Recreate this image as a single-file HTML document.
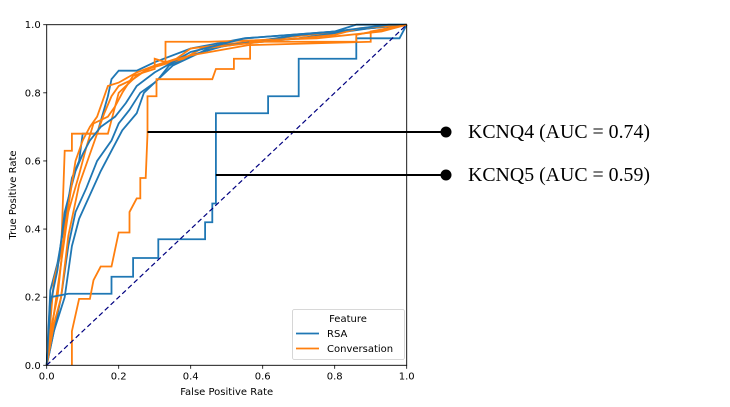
<!DOCTYPE html>
<html><head><meta charset="utf-8"><style>
body{margin:0;background:#fff;width:730px;height:407px;overflow:hidden}
svg{display:block;font-family:"DejaVu Sans","Liberation Sans",sans-serif}
</style></head><body>
<svg id="c" width="730" height="407"></svg>
<script>
const xTicks=[0,0.2,0.4,0.6,0.8,1.0];
const yTicks=[0,0.2,0.4,0.6,0.8,1.0];
const s0=[[0,0],[0.01,0.2],[0.06,0.21],[0.18,0.21],[0.18,0.26],[0.24,0.26],[0.24,0.315],[0.31,0.315],[0.31,0.37],[0.44,0.37],[0.44,0.42],[0.46,0.42],[0.46,0.475],[0.47,0.475],[0.47,0.74],[0.615,0.74],[0.615,0.79],[0.70,0.79],[0.70,0.90],[0.86,0.90],[0.86,0.96],[0.98,0.96],[1,1]];
const s1=[[0.07,0],[0.07,0.1],[0.09,0.195],[0.12,0.195],[0.13,0.25],[0.15,0.29],[0.18,0.29],[0.19,0.34],[0.2,0.39],[0.23,0.39],[0.23,0.45],[0.25,0.49],[0.26,0.49],[0.26,0.55],[0.275,0.55],[0.28,0.68],[0.28,0.79],[0.305,0.79],[0.305,0.84],[0.46,0.84],[0.47,0.87],[0.52,0.87],[0.52,0.90],[0.565,0.90],[0.565,0.95],[0.86,0.95],[0.86,0.97],[1,1]];
const s2=[[0,0],[0.01,0.22],[0.03,0.3],[0.05,0.42],[0.07,0.55],[0.09,0.6],[0.1,0.68],[0.14,0.68],[0.17,0.79],[0.18,0.84],[0.2,0.865],[0.25,0.865],[0.3,0.89],[0.4,0.93],[0.55,0.96],[0.8,0.98],[0.86,1.0],[1,1]];
const s3=[[0,0],[0.02,0.25],[0.04,0.33],[0.05,0.63],[0.07,0.63],[0.07,0.68],[0.17,0.68],[0.2,0.8],[0.25,0.85],[0.3,0.88],[0.36,0.9],[0.4,0.93],[0.6,0.955],[0.9,0.99],[1,1]];
const s4=[[0,0],[0.02,0.1],[0.04,0.2],[0.06,0.35],[0.08,0.45],[0.11,0.52],[0.14,0.6],[0.18,0.66],[0.2,0.71],[0.23,0.75],[0.26,0.8],[0.3,0.83],[0.35,0.88],[0.45,0.93],[0.7,0.97],[1,1]];
const s5=[[0,0],[0.02,0.15],[0.04,0.3],[0.06,0.45],[0.09,0.56],[0.11,0.64],[0.13,0.71],[0.17,0.73],[0.19,0.76],[0.21,0.8],[0.24,0.85],[0.3,0.87],[0.3,0.9],[0.33,0.89],[0.33,0.95],[0.45,0.95],[0.75,0.96],[0.93,0.98],[1,1]];
const s6=[[0,0],[0.02,0.1],[0.05,0.2],[0.07,0.35],[0.09,0.43],[0.12,0.5],[0.15,0.57],[0.18,0.63],[0.21,0.69],[0.25,0.74],[0.27,0.8],[0.31,0.84],[0.34,0.88],[0.4,0.91],[0.5,0.94],[0.7,0.96],[0.9,0.99],[1,1]];
const s7=[[0,0],[0.02,0.12],[0.04,0.2],[0.06,0.38],[0.09,0.53],[0.12,0.62],[0.14,0.68],[0.16,0.74],[0.18,0.79],[0.2,0.82],[0.24,0.84],[0.28,0.87],[0.38,0.9],[0.43,0.93],[0.6,0.95],[0.8,0.97],[0.87,0.99],[1,1]];
const s8=[[0,0],[0.01,0.18],[0.03,0.28],[0.05,0.45],[0.08,0.57],[0.1,0.62],[0.12,0.66],[0.15,0.7],[0.19,0.73],[0.22,0.77],[0.25,0.82],[0.3,0.86],[0.4,0.92],[0.55,0.96],[0.8,0.98],[0.95,1.0],[1,1]];
const s9=[[0,0],[0.01,0.1],[0.03,0.2],[0.05,0.4],[0.08,0.6],[0.1,0.66],[0.12,0.7],[0.14,0.73],[0.17,0.82],[0.2,0.83],[0.25,0.86],[0.3,0.88],[0.4,0.91],[0.56,0.94],[0.9,0.95],[0.9,0.98],[1,1]];
const allSeries=[s2,s3,s4,s5,s6,s7,s8,s9,s0,s1];
const allFeat=["RSA","Conversation","RSA","Conversation","RSA","Conversation","RSA","Conversation","RSA","Conversation"];
const annLabels=["KCNQ4 (AUC = 0.74)","KCNQ5 (AUC = 0.59)"];
const annAt=[[0.28,0.68],[0.47,0.56]];

const X0=46.7,X1=406.7,Y0=365.3,Y1=24.7;
const sx=v=>X0+v*(X1-X0), sy=v=>Y0-v*(Y0-Y1);
const svg=document.getElementById('c');const NS="http://www.w3.org/2000/svg";
function el(t,a,p){const e=document.createElementNS(NS,t);for(const k in a)e.setAttribute(k,a[k]);(p||svg).appendChild(e);return e;}
const colors={RSA:"#1f77b4",Conversation:"#ff7f0e"};
allSeries.forEach((s,i)=>{
 const p=el('polyline',{points:s.map(d=>sx(d[0])+','+sy(d[1])).join(' '),fill:'none',stroke:colors[allFeat[i]],'stroke-width':1.8});
 
 
});
const diag=el('line',{x1:sx(0),y1:sy(0),x2:sx(1),y2:sy(1),stroke:'#000080','stroke-width':1.2,'stroke-dasharray':'5,3'});


const frame=el('rect',{x:X0,y:Y1,width:X1-X0,height:Y0-Y1,fill:'none',stroke:'#000','stroke-width':0.9});


xTicks.forEach(v=>{
 el('line',{x1:sx(v),x2:sx(v),y1:Y0,y2:Y0+3.5,stroke:'#000','stroke-width':0.8});
 const t=el('text',{x:sx(v),y:Y0+14,'font-size':10,'text-anchor':'middle'});t.textContent=v.toFixed(1);
 
 
});
yTicks.forEach(v=>{
 el('line',{x1:X0-3.5,x2:X0,y1:sy(v),y2:sy(v),stroke:'#000','stroke-width':0.8});
 const t=el('text',{x:X0-6,y:sy(v)+3.5,'font-size':10,'text-anchor':'end'});t.textContent=v.toFixed(1);
 
 
});
const xt=el('text',{x:(X0+X1)/2,y:395,'font-size':10,'text-anchor':'middle'});xt.textContent='False Positive Rate';


const yt=el('text',{x:0,y:0,'font-size':10,'text-anchor':'middle',transform:'translate(16,'+((Y0+Y1)/2)+') rotate(-90)'});yt.textContent='True Positive Rate';


const lg=el('g',{});


el('rect',{x:292.5,y:309.5,width:112,height:50,rx:2,fill:'#fff',stroke:'#ccc','stroke-width':0.8},lg);
const lt=el('text',{x:348,y:322,'font-size':10,'text-anchor':'middle'},lg);lt.textContent='Feature';
[["RSA",337],["Conversation",352]].forEach(([n,y])=>{
 el('line',{x1:296,x2:319,y1:y-3.5,y2:y-3.5,stroke:colors[n],'stroke-width':1.8},lg);
 const t=el('text',{x:327,y:y,'font-size':10},lg);t.textContent=n;
 
 
});
const annY=[132,175];
annLabels.forEach((l,i)=>{
 const y=annY[i];
 const ln=el('line',{x1:sx(annAt[i][0]),x2:446,y1:y,y2:y,stroke:'#000','stroke-width':2});
 
 
 el('circle',{cx:446,cy:y,r:5.5,fill:'#000'});
 const t=el('text',{x:468,y:y+6,'font-size':19.5,'font-family':'"Liberation Serif",serif',textLength:182,lengthAdjust:'spacingAndGlyphs'});t.textContent=l;
 
 
});
</script>
</body></html>
